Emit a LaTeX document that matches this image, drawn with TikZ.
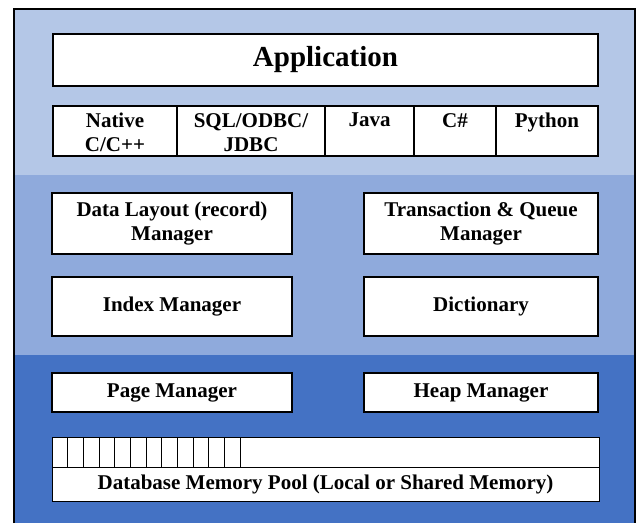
\documentclass[tikz,border=0pt]{standalone}
\usepackage{fontspec}
\setmainfont{Liberation Serif}
\usetikzlibrary{positioning}

\definecolor{applayer}{HTML}{B4C7E7}
\definecolor{mgrlayer}{HTML}{8FAADC}
\definecolor{memlayer}{HTML}{4472C4}

\tikzset{
  box/.style={draw, fill=white, line width=1.5pt, outer sep=0pt, inner sep=0pt,
    align=center, font=\bfseries\fontsize{21}{24}\selectfont},
  cell/.style={box, minimum height=50pt, anchor=north west},
  celltext/.style={inner sep=0pt, align=center, anchor=north,
    font=\bfseries\fontsize{21}{24}\selectfont},
  mgr/.style={box, minimum width=240pt},
  pool/.style={box, line width=0.8pt, minimum width=547pt}
}

\begin{document}
\begin{tikzpicture}[x=1pt, y=-1pt]
   \useasboundingbox (0,0) rectangle (638,523);
   % layers
   \fill[applayer] (14,9) rectangle (635,175);
   \fill[mgrlayer] (14,175) rectangle (635,355);
   \fill[memlayer] (14,355) rectangle (635,523);
   \draw[line width=2pt] (14,523) -- (14,9) -- (635,9) -- (635,523);

   % application layer
   \node (app) [box, minimum width=545pt, minimum height=52pt,
      font=\bfseries\fontsize{29}{32}\selectfont] at (325.5,60) {Application};
   \node (native) [cell, minimum width=124pt] at (53,106) {};
   \node (sql) [cell, minimum width=148pt, right=0pt of native] {};
   \node (java) [cell, minimum width=89pt, right=0pt of sql] {};
   \node (csharp) [cell, minimum width=82pt, right=0pt of java] {};
   \node (python) [cell, minimum width=102pt, right=0pt of csharp] {};
   \node (nativetxt) [celltext, below=7pt of native.north] {Native\\C/C++};
   \node (sqltxt) [celltext, below=7pt of sql.north] {SQL/ODBC/\\JDBC};
   \node (javatxt) [celltext, below=7pt of java.north] {Java};
   \node (csharptxt) [celltext, below=7pt of csharp.north] {C\#};
   \node (pythontxt) [celltext, below=7pt of python.north] {Python};

   % manager layer
   \node (layout) [mgr, minimum height=61pt] at (172,223.5) {Data Layout (record)\\Manager};
   \node (trans) [mgr, minimum width=234pt, minimum height=61pt] at (481,223.5) {Transaction \& Queue\\Manager};
   \node (index) [mgr, minimum height=59pt] at (172,306.5) {Index Manager};
   \node (dict) [mgr, minimum width=234pt, minimum height=59pt] at (481,306.5) {Dictionary};

   % memory layer
   \node (page) [mgr, minimum height=39pt] at (172,392.5) {Page Manager};
   \node (heap) [mgr, minimum width=234pt, minimum height=39pt] at (481,392.5) {Heap Manager};
   \node (slots) [pool, minimum height=30pt] at (325.5,452) {};
   \node (mempool) [pool, minimum height=34pt, below=0pt of slots] {Database Memory Pool (Local or Shared Memory)};
   \foreach \i in {1,...,12}
      \draw[line width=0.8pt] ([xshift=\i*15.67pt]slots.north west) -- ([xshift=\i*15.67pt]slots.south west);
\end{tikzpicture}
\end{document}
